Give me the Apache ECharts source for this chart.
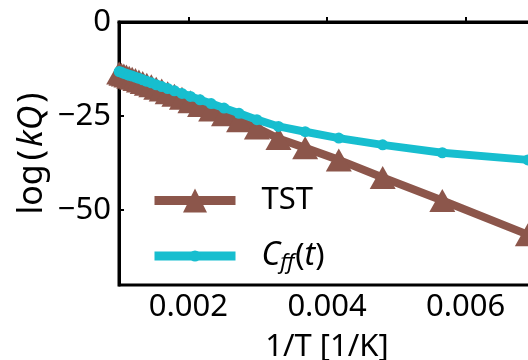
<!DOCTYPE html>
<html>
<head>
<meta charset="utf-8">
<script src="https://cdn.jsdelivr.net/npm/echarts@6/dist/echarts.min.js"></script>
<style>
html,body{margin:0;padding:0;background:#fff;}
#c{width:528px;height:360px;}
</style>
</head>
<body>
<div id="c"></div>
<script>
// 1/T values [1/K]
const invT = [0.001002,0.001035,0.001070,0.001107,0.001147,0.001190,0.001237,0.001287,0.001342,0.001401,
  0.001466,0.001537,0.001616,0.001702,0.001799,0.001908,0.002030,0.002169,0.002329,0.002514,
  0.002731,0.002989,0.003300,0.003685,0.004170,0.004803,0.005663,0.006897];
const tstValues = [-13.6,-13.9,-14.1,-14.4,-14.7,-15.0,-15.3,-15.7,-16.1,-16.6,
  -17.0,-17.6,-18.1,-18.8,-19.5,-20.3,-21.2,-22.2,-23.4,-24.7,
  -26.3,-28.2,-31.0,-33.5,-36.7,-41.4,-47.5,-56.6];
const cffValues = [-13.2,-13.4,-13.7,-13.9,-14.2,-14.4,-14.7,-15.0,-15.4,-15.8,
  -16.2,-16.7,-17.2,-17.7,-18.3,-19.0,-19.8,-20.7,-21.7,-22.9,
  -24.3,-26.0,-27.8,-29.2,-30.9,-32.7,-34.8,-36.7];
const xTicks = [0.002, 0.004, 0.006];
const yTicks = [0, -25, -50];
const seriesNames = ['TST', 'Cff'];

const FONT = 'Noto Sans';
const FS = 31;
const YFS = 34;
const chart = echarts.init(document.getElementById('c'), null, {renderer: 'canvas'});
const pairs = (xs, ys) => xs.map((x, i) => [x, ys[i]]);
const legendText = {
  fontFamily: FONT, fontSize: FS, color: '#000', padding: [0, 0, 0, 21],
  rich: {
    i: {fontFamily: FONT, fontSize: 32, fontStyle: 'italic', color: '#000'},
    s: {fontFamily: FONT, fontSize: 22, fontStyle: 'italic', color: '#000', padding: [14, 1, 0, 0]},
    n: {fontFamily: FONT, fontSize: FS, color: '#000'}
  }
};
chart.setOption({
  backgroundColor: '#fff',
  animation: false,
  grid: {left: 119, top: 22, width: 416, height: 263, show: true, borderColor: '#000', borderWidth: 3,
    containLabel: false, outerBoundsMode: 'none'},
  xAxis: {
    type: 'value', min: 0.001, max: 0.007,
    name: '1/T [1/K]', nameLocation: 'middle', nameGap: 47, nameMoveOverlap: false,
    nameTextStyle: {fontFamily: FONT, fontSize: FS, color: '#000'},
    axisLine: {show: true, lineStyle: {color: '#000', width: 3}},
    axisTick: {show: true, inside: true, length: 5, lineStyle: {color: '#000', width: 2}, customValues: xTicks},
    axisLabel: {fontFamily: FONT, fontSize: FS, color: '#000', margin: 7, customValues: xTicks,
      formatter: v => v.toFixed(3)},
    splitLine: {show: false}
  },
  yAxis: {
    type: 'value', min: -70, max: 0,
    name: '{n|log}{p|(}{i|kQ}{q|)}', nameLocation: 'middle', nameGap: 70, nameMoveOverlap: false,
    nameTextStyle: {fontFamily: FONT, fontSize: YFS, color: '#000',
      rich: {
        n: {fontFamily: FONT, fontSize: YFS, color: '#000', padding: [0, 4, 0, 0]},
        p: {fontFamily: FONT, fontSize: YFS, color: '#000', padding: [0, 3, 0, 0]},
        i: {fontFamily: FONT, fontSize: YFS, fontStyle: 'italic', color: '#000', padding: [0, 3, 0, 0]},
        q: {fontFamily: FONT, fontSize: YFS, color: '#000'}
      }},
    axisLine: {show: true, lineStyle: {color: '#000', width: 3}},
    axisTick: {show: true, inside: true, length: 5, lineStyle: {color: '#000', width: 2}, customValues: yTicks},
    axisLabel: {fontFamily: FONT, fontSize: FS, color: '#000', margin: 8, customValues: yTicks,
      formatter: v => v < 0 ? '\u2212' + Math.abs(v) : String(v)},
    splitLine: {show: false}
  },
  legend: [
    {data: [seriesNames[0]], left: 145, top: 180, itemWidth: 81, itemHeight: 30, textStyle: legendText,
     lineStyle: {width: 9}, formatter: () => 'TST'},
    {data: [seriesNames[1]], left: 145, top: 235, itemWidth: 81, itemHeight: 14, textStyle: legendText,
     lineStyle: {width: 9}, formatter: () => '{i|C}{s|ff}{n|(}{i|t}{n|)}'}
  ],
  series: [
    {name: seriesNames[0], type: 'line', data: pairs(invT, tstValues), symbol: 'triangle', symbolSize: [26, 23],
     color: '#8c564b', lineStyle: {width: 8, color: '#8c564b'}, itemStyle: {color: '#8c564b'}, z: 2},
    {name: seriesNames[1], type: 'line', data: pairs(invT, cffValues), symbol: 'circle', symbolSize: 11,
     color: '#17becf', lineStyle: {width: 8, color: '#17becf'}, itemStyle: {color: '#17becf'}, z: 3}
  ]
});
</script>
</body>
</html>
